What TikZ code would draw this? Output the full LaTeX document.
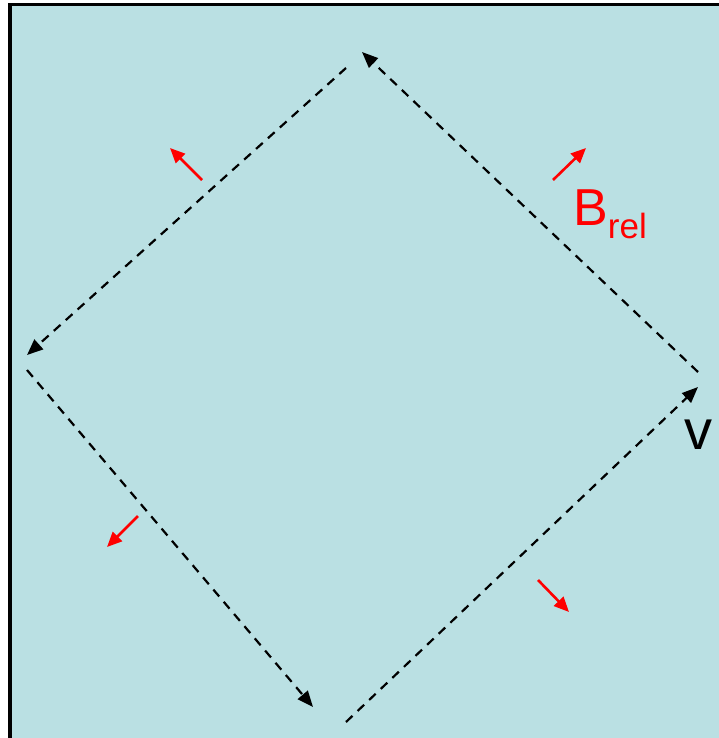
\documentclass[tikz,border=0pt]{standalone}
\usepackage{fontspec}
\setmainfont{Liberation Sans}
\usetikzlibrary{arrows.meta}
\definecolor{bgcyan}{RGB}{186,224,227}
\definecolor{fieldred}{RGB}{255,0,0}
\tikzset{
  edge/.style={draw=black, line width=2.2pt, dash pattern=on 9pt off 7pt, -{Triangle[length=16pt,width=13pt]}},
  field/.style={draw=fieldred, line width=2.6pt, -{Triangle[length=15pt,width=13pt]}},
  lbl/.style={inner sep=0pt, anchor=base west}
}
\begin{document}
\begin{tikzpicture}[x=1pt,y=-1pt]
\useasboundingbox (0,0) rectangle (719,738);
\begin{scope}
\clip (0,0) rectangle (719,738);
\draw[line width=3.5pt, fill=bgcyan] (9.75,4.75) rectangle (740,760);
\end{scope}
% diamond edge coordinates
\coordinate (tlA) at (346,68);
\coordinate (tlB) at (27,355);
\coordinate (trA) at (698,372);
\coordinate (trB) at (362,52);
\coordinate (lbA) at (27,370);
\coordinate (lbB) at (313,707);
\coordinate (brA) at (346,722);
\coordinate (brB) at (698,387);
\draw[edge] (tlA) -- (tlB);
\draw[edge] (trA) -- (trB);
\draw[edge] (lbA) -- (lbB);
\draw[edge] (brA) -- (brB);
% red field arrows
\coordinate (f1a) at (202,180); \coordinate (f1b) at (170,148);
\coordinate (f2a) at (553,180); \coordinate (f2b) at (586,148);
\coordinate (f3a) at (138,516); \coordinate (f3b) at (107,547);
\coordinate (f4a) at (538,580); \coordinate (f4b) at (569,612);
\draw[field] (f1a) -- (f1b);
\draw[field] (f2a) -- (f2b);
\draw[field] (f3a) -- (f3b);
\draw[field] (f4a) -- (f4b);
% labels
\node[lbl, text=fieldred] (brel) at (573,225) {\fontsize{52}{52}\selectfont B\raisebox{-13pt}{\fontsize{35}{35}\selectfont rel}};
\node[lbl, text=black] (v) at (684,449) {\fontsize{56}{56}\selectfont v};
\end{tikzpicture}
\end{document}
